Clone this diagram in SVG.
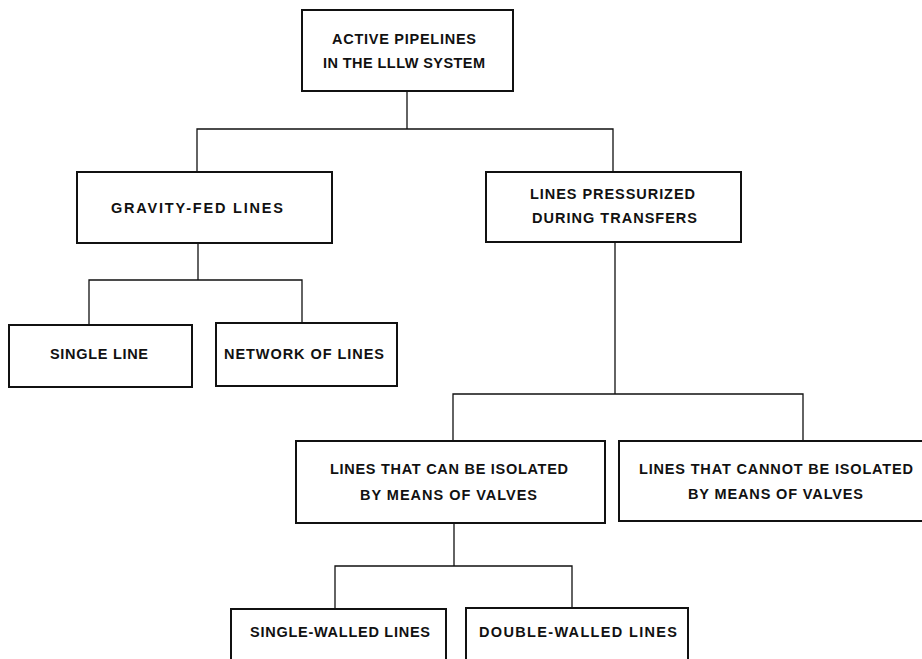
<svg xmlns="http://www.w3.org/2000/svg" width="922" height="659" viewBox="0 0 922 659">
<style>
.box{fill:#fff;stroke:#111;stroke-width:2}
.con{fill:none;stroke:#111;stroke-width:1.3}
text{font-family:"Liberation Sans",Arial,sans-serif;font-weight:bold;font-size:14.5px;fill:#111}
</style>
<rect width="922" height="659" fill="#fff"/>
<g id="connectors" class="con">
<path d="M407 91V129M197 172V129H613V172"/>
<path d="M198 243V280M89 325V280H302V323"/>
<path d="M615 242V394M453 441V394H803V441"/>
<path d="M454 523V566M335 609V566H572V608"/>
</g>
<g id="n-top"><rect class="box" x="302" y="10" width="211" height="81"/>
<text x="332" y="43.5" textLength="144" lengthAdjust="spacing">ACTIVE PIPELINES</text>
<text x="323" y="67.5" textLength="162" lengthAdjust="spacing">IN THE LLLW SYSTEM</text></g>
<g id="n-gravity"><rect class="box" x="77" y="172" width="255" height="71"/>
<text x="111" y="213" textLength="172" lengthAdjust="spacing">GRAVITY-FED LINES</text></g>
<g id="n-pressurized"><rect class="box" x="486" y="172" width="255" height="70"/>
<text x="530" y="198.5" textLength="165" lengthAdjust="spacing">LINES PRESSURIZED</text>
<text x="532" y="223" textLength="165" lengthAdjust="spacing">DURING TRANSFERS</text></g>
<g id="n-single"><rect class="box" x="9" y="325" width="183" height="62"/>
<text x="50" y="359" textLength="98" lengthAdjust="spacing">SINGLE LINE</text></g>
<g id="n-network"><rect class="box" x="216" y="323" width="181" height="63"/>
<text x="224" y="358.5" textLength="160" lengthAdjust="spacing">NETWORK OF LINES</text></g>
<g id="n-can"><rect class="box" x="296" y="441" width="309" height="82"/>
<text x="330" y="473.5" textLength="238" lengthAdjust="spacing">LINES THAT CAN BE ISOLATED</text>
<text x="360" y="500" textLength="177" lengthAdjust="spacing">BY MEANS OF VALVES</text></g>
<g id="n-cannot"><rect class="box" x="619" y="441" width="312" height="80"/>
<text x="639" y="474" textLength="274" lengthAdjust="spacing">LINES THAT CANNOT BE ISOLATED</text>
<text x="688" y="499" textLength="175" lengthAdjust="spacing">BY MEANS OF VALVES</text></g>
<g id="n-singlewalled"><rect class="box" x="231" y="609" width="215" height="62"/>
<text x="250" y="637" textLength="180" lengthAdjust="spacing">SINGLE-WALLED LINES</text></g>
<g id="n-doublewalled"><rect class="box" x="466" y="608" width="222" height="63"/>
<text x="479" y="637" textLength="198" lengthAdjust="spacing">DOUBLE-WALLED LINES</text></g>
</svg>
